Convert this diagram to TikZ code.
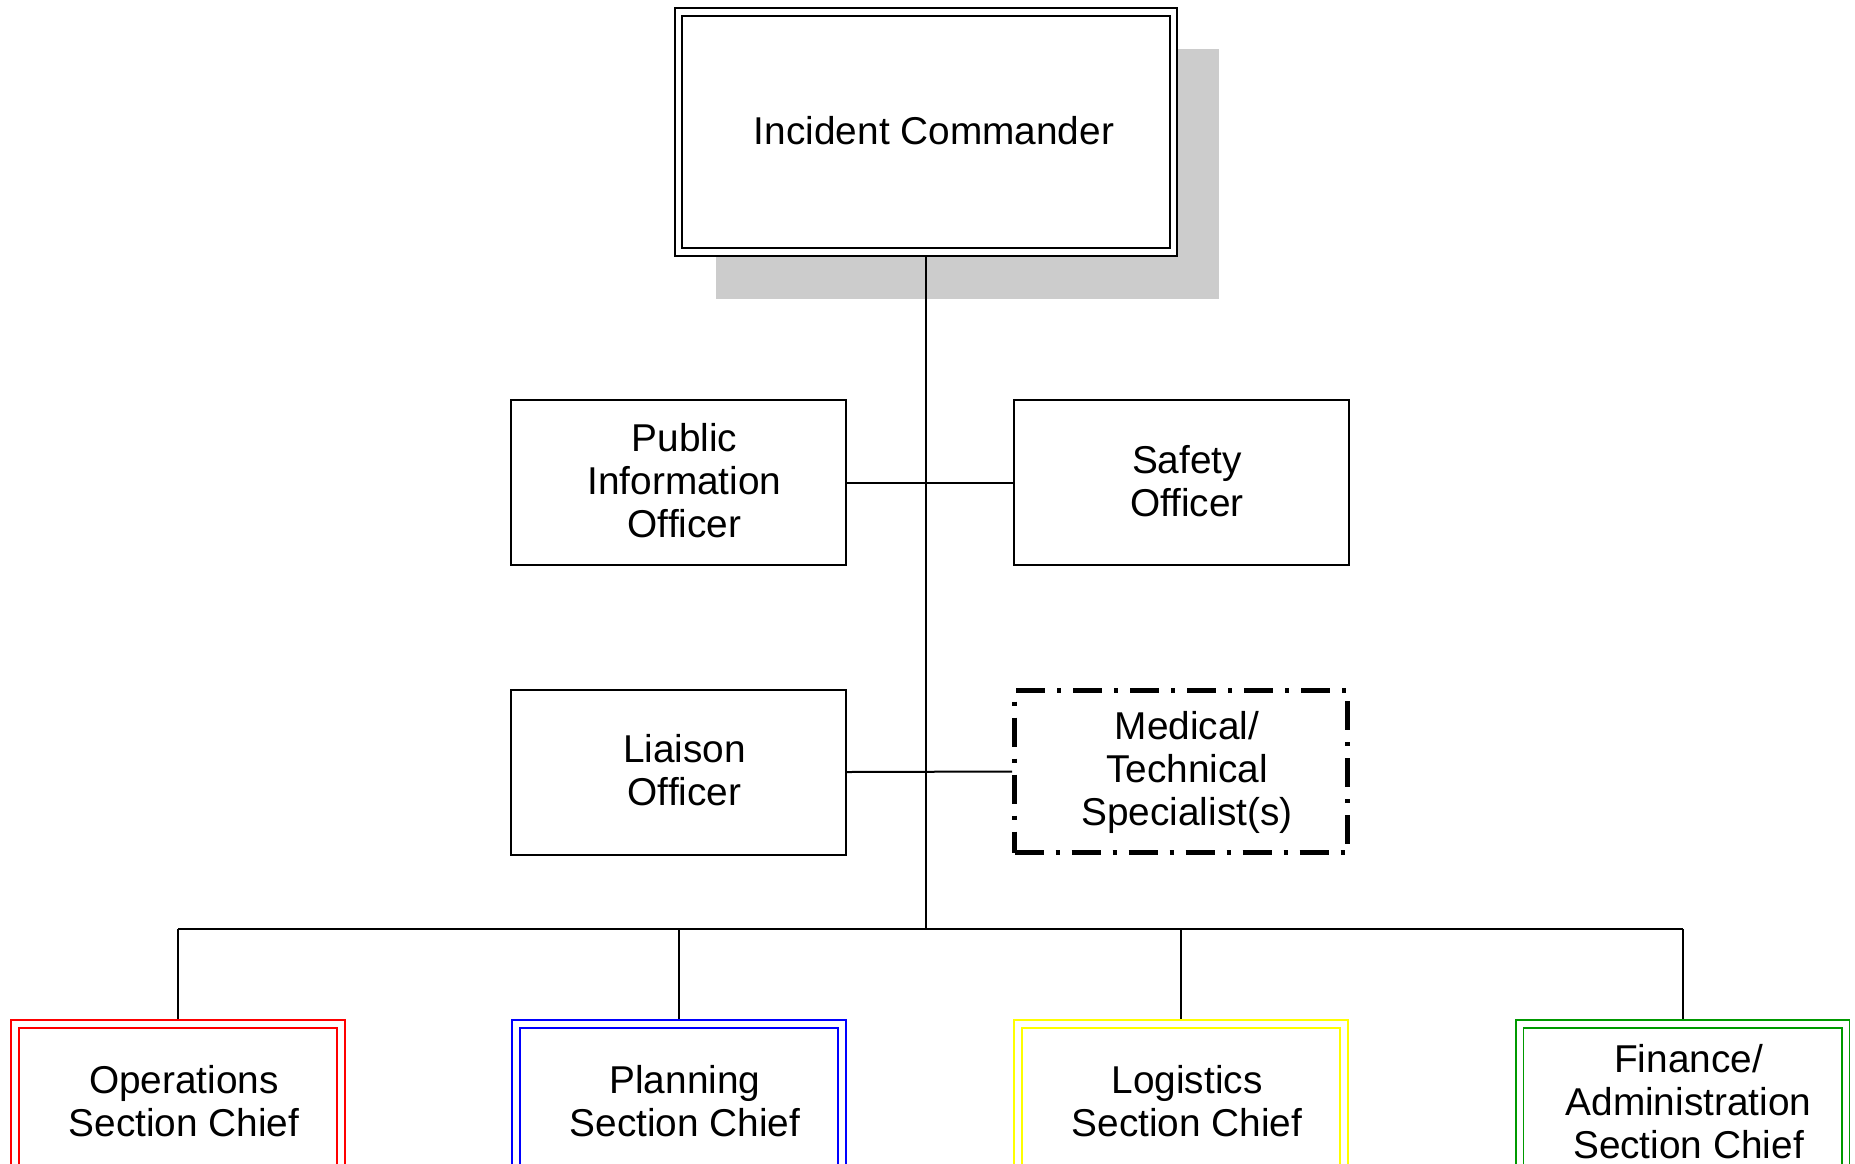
\documentclass[tikz,border=0pt]{standalone}
\usepackage{fontspec}
\setmainfont{Liberation Sans}
\usetikzlibrary{backgrounds}
\definecolor{shadowgray}{HTML}{CCCCCC}
\definecolor{secred}{HTML}{FF0000}
\definecolor{secblue}{HTML}{0000FF}
\definecolor{secyellow}{HTML}{FFFF00}
\definecolor{secgreen}{HTML}{009900}
\tikzset{
  lbl/.style={font=\fontsize{38.8}{43}\selectfont, align=center, inner sep=0pt},
  plainbox/.style={draw=black, line width=2pt, fill=white, minimum width=335pt, minimum height=165pt},
  medbox/.style={draw=black, line width=4.8pt, fill=white, minimum width=333pt, minimum height=162pt,
    dash pattern=on 29pt off 12pt on 4pt off 12pt},
  dblbox/.style={draw=#1, line width=1.6pt, double=white, double distance=6pt, fill=white,
    minimum width=326pt, minimum height=165pt},
  icbox/.style={draw=black, line width=2pt, double=white, double distance=5.5pt, fill=white,
    minimum width=495pt, minimum height=240pt},
  conn/.style={draw=black, line width=2pt},
}
\begin{document}
\begin{tikzpicture}[x=1pt,y=-1pt]
\useasboundingbox (0,0) rectangle (1855,1163);
\clip (0,0) rectangle (1855,1163);

\node[icbox] (ic) at (926,132) {};
\node[plainbox] (pio) at (678.5,482.5) {};
\node[plainbox] (so) at (1181,482.5) {};
\node[plainbox] (lo) at (678.5,772) {};
\node[medbox] (med) at (1181,771.5) {};
\node[dblbox=secred] (ops) at (178,1106.5) {};
\node[dblbox=secblue] (plan) at (679,1106.5) {};
\node[dblbox=secyellow] (log) at (1181,1106.5) {};
\node[dblbox=secgreen] (fin) at (1682.5,1106.5) {};

\node[lbl] (ic-t) at ([xshift=8pt,yshift=1.5pt]ic.center) {Incident Commander};
\node[lbl] (pio-t) at ([xshift=6pt,yshift=1.5pt]pio.center) {Public\\Information\\Officer};
\node[lbl] (so-t) at ([xshift=6pt,yshift=1.5pt]so.center) {Safety\\Officer};
\node[lbl] (lo-t) at ([xshift=6pt,yshift=1.5pt]lo.center) {Liaison\\Officer};
\node[lbl] (med-t) at ([xshift=6pt,yshift=-1pt]med.center) {Medical/\\Technical\\Specialist(s)};
\node[lbl] (ops-t) at ([xshift=6pt,yshift=5pt]ops.center) {Operations\\Section Chief};
\node[lbl] (plan-t) at ([xshift=6pt,yshift=5pt]plan.center) {Planning\\Section Chief};
\node[lbl] (log-t) at ([xshift=6pt,yshift=5pt]log.center) {Logistics\\Section Chief};
\node[lbl] (fin-t) at ([xshift=6pt,yshift=5pt]fin.center) {Finance/\\Administration\\Section Chief};

\coordinate (bar) at (926,929);
\begin{pgfonlayer}{background}
  \fill[white] (0,0) rectangle (1855,1163);
  \fill[shadowgray] (716,49) rectangle (1219,299);
  \draw[conn] (ic.south) -- (bar);
  \draw[conn] (pio.east) -- (so.west);
  \draw[conn] (lo.east) -- (med.west);
  \draw[conn] (ops.north |- bar) -- (fin.north |- bar);
  \draw[conn] (ops.north |- bar) -- (ops.north);
  \draw[conn] (plan.north |- bar) -- (plan.north);
  \draw[conn] (log.north |- bar) -- (log.north);
  \draw[conn] (fin.north |- bar) -- (fin.north);
\end{pgfonlayer}
\end{tikzpicture}
\end{document}
